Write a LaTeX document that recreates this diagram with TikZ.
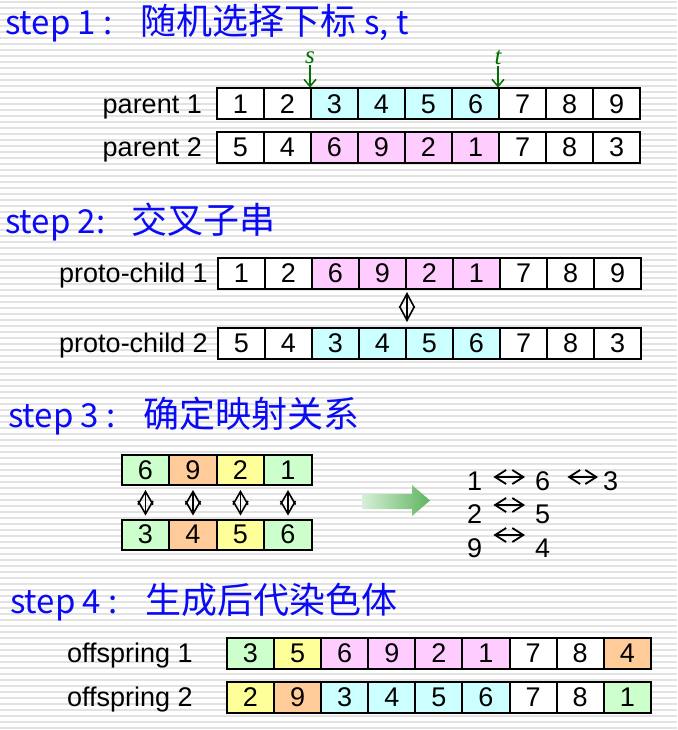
\documentclass[tikz,border=0pt]{standalone}
\usepackage{fontspec}
\usepackage{tikz}
\usetikzlibrary{arrows.meta,positioning}
\setmainfont{Liberation Sans}
\newfontfamily\cjk{Noto Sans CJK SC}
\newfontfamily\serif{Liberation Serif}
\definecolor{titleblue}{RGB}{10,10,245}
\definecolor{markgreen}{RGB}{0,110,0}
\definecolor{cy}{RGB}{204,255,255}
\definecolor{pk}{RGB}{255,204,255}
\definecolor{gr}{RGB}{204,255,204}
\definecolor{ye}{RGB}{255,255,153}
\definecolor{or}{RGB}{255,204,153}
\definecolor{stripe}{RGB}{226,226,226}
\newcommand\zh[1]{{\fontsize{36}{40}\selectfont #1}}

\begin{document}
\begin{tikzpicture}[x=1pt,y=-1pt]
	\tikzstyle{cell}=[draw,line width=2pt,minimum width=47pt,minimum height=31pt,inner sep=0pt,font=\fontsize{27}{30}\selectfont]
	\tikzstyle{mcell}=[cell,minimum width=47.5pt,minimum height=30pt]
	\tikzstyle{lbl}=[inner sep=0pt,font=\fontsize{27}{30}\selectfont]
	\tikzstyle{title}=[anchor=base west,inner sep=0pt,text=titleblue,font=\cjk\fontsize{33}{38}\selectfont]
	\tikzstyle{idxmark}=[inner sep=1pt,text=markgreen,font=\serif\itshape\fontsize{25}{27}\selectfont]
	\tikzstyle{ptr}=[markgreen,line width=1.5pt,-{Straight Barb[length=7pt,width=12pt]}]
	\tikzstyle{swap}=[line width=1.6pt,{Straight Barb[length=14pt,width=15pt]}-{Straight Barb[length=14pt,width=15pt]}]
	\tikzstyle{maparrow}=[line width=1.8pt,{Straight Barb[length=11pt,width=14pt]}-{Straight Barb[length=11pt,width=14pt]}]
	
	% background
	\useasboundingbox (0,0) rectangle (677,730);
	\fill[white] (0,0) rectangle (677,730);
	\foreach \y in {2,8,...,728}
		\draw[stripe,line width=2pt] (0,\y) -- (677,\y);
	
	% step 1
	\node[title] (t1) at (5,35) {step 1 :\hspace{28pt}\zh{随机选择下标} s, t};
	\foreach \v/\c [count=\i] in {1/white,2/white,3/cy,4/cy,5/cy,6/cy,7/white,8/white,9/white}
		\node[cell,fill=\c] (pa-\i) at ({240.5+(\i-1)*47},104) {\v};
	\foreach \v/\c [count=\i] in {5/white,4/white,6/pk,9/pk,2/pk,1/pk,7/white,8/white,3/white}
		\node[cell,fill=\c] (pb-\i) at ({240.5+(\i-1)*47},147.5) {\v};
	\node[lbl,left=14pt of pa-1.base west,anchor=base east] {parent 1};
	\node[lbl,left=14pt of pb-1.base west,anchor=base east] {parent 2};
	
	\node[idxmark] (s) at (310,58) {s};
	\node[idxmark] (t) at (498,58) {t};
	\draw[ptr] (s) -- (pa-3.north west);
	\draw[ptr] (t) -- (pa-7.north west);
	
	% step 2
	\node[title] (t2) at (5,233) {step 2:\hspace{26pt}\zh{交叉子串}};
	\foreach \v/\c [count=\i] in {1/white,2/white,6/pk,9/pk,2/pk,1/pk,7/white,8/white,9/white}
		\node[cell,fill=\c] (pc-\i) at ({241.5+(\i-1)*47},273.5) {\v};
	\foreach \v/\c [count=\i] in {5/white,4/white,3/cy,4/cy,5/cy,6/cy,7/white,8/white,3/white}
		\node[cell,fill=\c] (pd-\i) at ({241.5+(\i-1)*47},343.5) {\v};
	\node[lbl,left=9pt of pc-1.base west,anchor=base east] {proto-child 1};
	\node[lbl,left=9pt of pd-1.base west,anchor=base east] {proto-child 2};
	\draw[swap,shorten <=2pt,shorten >=5pt] (pc-4.south east) -- (pd-4.north east);
	
	% step 3
	\node[title] (t3) at (8,427) {step 3 :\hspace{28pt}\zh{确定映射关系}};
	\foreach \v/\c [count=\i] in {6/gr,9/or,2/ye,1/gr}
		\node[mcell,fill=\c] (qa-\i) at ({145.5+(\i-1)*47.5},470) {\v};
	\foreach \v/\c [count=\i] in {3/gr,4/or,5/ye,6/gr}
		\node[mcell,fill=\c] (qb-\i) at ({145.5+(\i-1)*47.5},534.5) {\v};
	\foreach \i in {1,...,4}
		\draw[swap,{Straight Barb[length=13pt,width=15pt]}-{Straight Barb[length=13pt,width=15pt]},shorten <=4pt,shorten >=3pt] (qa-\i) -- (qb-\i);
	
	\shade[left color={rgb,255:red,215;green,240;blue,215},right color={rgb,255:red,95;green,180;blue,95}]
		(362,494) -- (412,494) -- (412,485) -- (430,500.5) -- (412,516) -- (412,509) -- (362,509) -- cycle;
	
	\node[lbl,anchor=base west] (ma) at (467,490) {1};
	\node[lbl,anchor=base west] (mb) at (535,490) {6};
	\node[lbl,anchor=base west] (mc) at (603,490) {3};
	\node[lbl,anchor=base west] (na) at (467,523) {2};
	\node[lbl,anchor=base west] (nb) at (535,523) {5};
	\node[lbl,anchor=base west] (ra) at (467,557) {9};
	\node[lbl,anchor=base west] (rb) at (535,557) {4};
	\draw[maparrow] ([shift={(11,-13)}]ma.base east) -- ([shift={(-10,-13)}]mb.base west);
	\draw[maparrow] ([shift={(17,-13)}]mb.base east) -- ([shift={(-5,-13)}]mc.base west);
	\draw[maparrow] ([shift={(11,-18)}]na.base east) -- ([shift={(-10,-18)}]nb.base west);
	\draw[maparrow] ([shift={(11,-22)}]ra.base east) -- ([shift={(-10,-22)}]rb.base west);
	
	% step 4
	\node[title] (t4) at (10,613) {step 4 :\hspace{28pt}\zh{生成后代染色体}};
	\foreach \v/\c [count=\i] in {3/gr,5/ye,6/pk,9/pk,2/pk,1/pk,7/white,8/white,4/or}
		\node[cell,fill=\c,minimum width=47.1pt] (oa-\i) at ({250.5+(\i-1)*47.1},653) {\v};
	\foreach \v/\c [count=\i] in {2/ye,9/or,3/cy,4/cy,5/cy,6/cy,7/white,8/white,1/gr}
		\node[cell,fill=\c,minimum width=47.1pt] (ob-\i) at ({250.5+(\i-1)*47.1},697) {\v};
	\node[lbl,left=33pt of oa-1.base west,anchor=base east] {offspring 1};
	\node[lbl,left=33pt of ob-1.base west,anchor=base east] {offspring 2};
	
\end{tikzpicture}
\end{document}
